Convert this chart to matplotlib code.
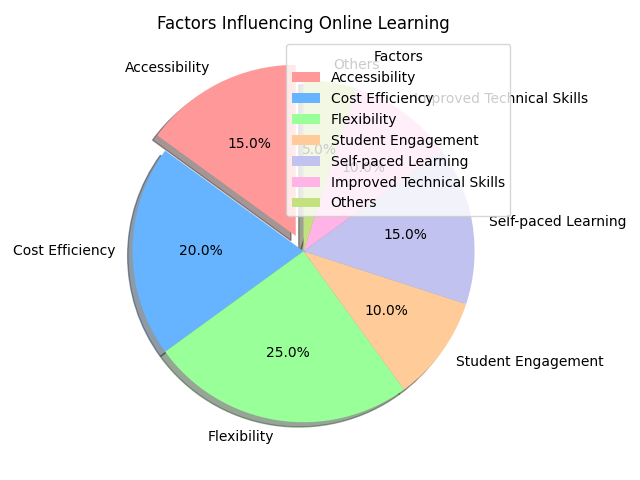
import matplotlib
matplotlib.use('Agg')
from matplotlib import pyplot as plt

factors = ['Accessibility', 'Cost Efficiency', 'Flexibility', 'Student Engagement',
           'Self-paced Learning', 'Improved Technical Skills', 'Others']
shares = [15, 20, 25, 10, 15, 10, 5]
colors = ['#ff9999', '#66b3ff', '#99ff99', '#ffcc99', '#c2c2f0', '#ffb3e6', '#c4e17f']
explode = [0.1, 0, 0, 0, 0, 0, 0]

fig, ax = plt.subplots(figsize=(6.4, 4.8), dpi=100)
ax.pie(shares, labels=factors, colors=colors, explode=explode,
       autopct='%1.1f%%', startangle=90, shadow=True)
ax.set_title('Factors Influencing Online Learning')
ax.legend(title='Factors', loc='upper right')

plt.tight_layout()
plt.savefig('out.png')
